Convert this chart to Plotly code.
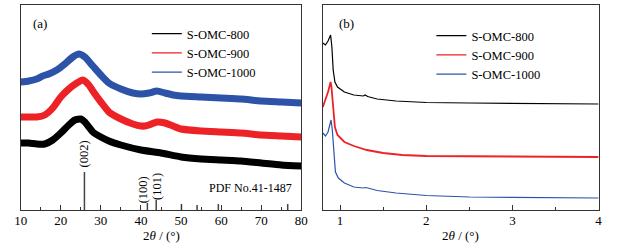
import plotly.graph_objects as go

# ---------------- data ----------------
series_names = ["S-OMC-800", "S-OMC-900", "S-OMC-1000"]
series_colors = ["#000000", "#ec2227", "#2c53a8"]

# (a) wide-angle XRD, 2theta (deg) and intensity (a.u., offset curves)
wa_x_800 = [10, 12, 14, 16, 18, 20, 22, 23.5, 25, 26, 27, 28, 30, 32, 35, 40, 45, 50, 55, 60, 65, 70, 75, 80]
wa_y_800 = [67, 67, 66, 66, 70, 77, 85, 90, 91, 88, 83, 78, 73, 69, 65, 60, 57, 53, 51, 50, 49, 47, 45, 44]

wa_x_900 = [10, 12, 14, 16, 18, 20, 22, 24, 25.5, 27, 28, 30, 32, 35, 38, 40, 41, 42, 44, 46, 48, 50, 55, 60, 65, 70, 75, 80]
wa_y_900 = [93, 93, 93, 95, 102, 113, 121, 127, 130, 125, 119, 108, 98, 91, 86, 84, 84, 85, 88, 87, 84, 81, 79, 78, 77, 75, 74, 73]

wa_x_1000 = [10, 12, 14, 15.5, 17, 19, 21, 23, 24.5, 26, 28, 30, 32, 35, 38, 40, 42, 44, 46, 48, 50, 55, 60, 65, 70, 75, 80]
wa_y_1000 = [128, 129, 131, 134, 136, 140, 146, 153, 156, 153, 144, 135, 127, 121, 117, 116, 117, 119, 117, 115, 114, 113, 112, 111, 109, 108, 107]

# reference pattern PDF No.41-1487 (stick positions and heights)
ref_pos = [25.9, 41.6, 43.8, 50.1, 54.0, 59.3, 76.6]
ref_height = [38, 7, 10, 6, 5, 6, 6]
ref_labels = ["(002)", "(100)", "(101)"]
ref_label_x = [25.9, 40.6, 44.0]
ref_label_y = [56, 20, 24]

# (b) small-angle XRD
sa_x_800 = [0.8, 0.83, 0.86, 0.89, 0.905, 0.92, 0.94, 0.97, 1.05, 1.16, 1.27, 1.29, 1.32, 1.43, 1.65, 2.0, 2.5, 3.0, 4.0]
sa_y_800 = [167, 165, 169, 175, 163, 140, 128, 123, 118, 115, 114, 115, 113.5, 111, 109, 107.5, 107, 106.5, 106]

sa_x_900 = [0.8, 0.83, 0.86, 0.89, 0.90, 0.92, 0.94, 0.97, 1.05, 1.16, 1.31, 1.5, 1.72, 2.0, 3.0, 4.0]
sa_y_900 = [103, 110, 118, 128, 123, 103, 83, 75, 68, 64, 60, 57, 55, 54, 53.5, 53]

sa_x_1000 = [0.8, 0.83, 0.86, 0.895, 0.91, 0.93, 0.946, 0.98, 1.05, 1.16, 1.27, 1.30, 1.43, 1.65, 2.0, 2.5, 3.0, 4.0]
sa_y_1000 = [77, 74, 78, 90, 80, 57, 38, 32, 27, 23, 22, 22.5, 19.5, 17, 14.5, 13, 12.5, 12]

xa_ticks = [10, 20, 30, 40, 50, 60, 70, 80]
xb_ticks = [1, 2, 3, 4]

# ---------------- figure ----------------
W, H = 632, 252
FONT = "Liberation Serif, Times New Roman, serif"
FS = 13
fig = go.Figure()

wa = [(wa_x_800, wa_y_800), (wa_x_900, wa_y_900), (wa_x_1000, wa_y_1000)]
sa = [(sa_x_800, sa_y_800), (sa_x_900, sa_y_900), (sa_x_1000, sa_y_1000)]
sa_widths = [1.2, 1.8, 1.2]

for (xs, ys), c in zip(wa, series_colors):
    fig.add_trace(go.Scatter(x=xs, y=ys, mode="lines", line=dict(color=c, width=7, shape="spline", smoothing=0.5),
                             showlegend=False, xaxis="x", yaxis="y"))
for (xs, ys), c, w in zip(sa, series_colors, sa_widths):
    fig.add_trace(go.Scatter(x=xs, y=ys, mode="lines", line=dict(color=c, width=w),
                             showlegend=False, xaxis="x2", yaxis="y2"))

# sticks
sx, sy = [], []
for p, h in zip(ref_pos, ref_height):
    sx += [p, p, None]
    sy += [0, h, None]
fig.add_trace(go.Scatter(x=sx, y=sy, mode="lines", line=dict(color="#444444", width=1.5),
                         showlegend=False, xaxis="x", yaxis="y"))

# legend entries (thin lines)
for name, c in zip(series_names, series_colors):
    fig.add_trace(go.Scatter(x=[None], y=[None], mode="lines", name=name, line=dict(color=c, width=1.2),
                             xaxis="x", yaxis="y", legend="legend"))
for name, c in zip(series_names, series_colors):
    fig.add_trace(go.Scatter(x=[None], y=[None], mode="lines", name=name, line=dict(color=c, width=1.2),
                             xaxis="x2", yaxis="y2", legend="legend2"))

ann = []
for lab, lx, ly in zip(ref_labels, ref_label_x, ref_label_y):
    ann.append(dict(x=lx, y=ly, xref="x", yref="y", text=lab, textangle=-90, showarrow=False,
                    font=dict(family=FONT, size=12.5, color="black")))
ann.append(dict(x=293 / W, y=1 - 187.7 / H, xref="paper", yref="paper", text="PDF No.41-1487",
                xanchor="right", yanchor="middle", showarrow=False, font=dict(family=FONT, size=12, color="black")))
ann.append(dict(x=25 / W, y=1 - 23 / H, xref="paper", yref="paper", text="(a)", xanchor="left",
                yanchor="middle", showarrow=False, font=dict(family=FONT, size=FS, color="black")))
ann.append(dict(x=337 / W, y=1 - 23 / H, xref="paper", yref="paper", text="(b)", xanchor="left",
                yanchor="middle", showarrow=False, font=dict(family=FONT, size=FS, color="black")))
for cx in [(14 + 301) / 2, (323 + 605) / 2]:
    ann.append(dict(x=cx / W, y=1 - 235.5 / H, xref="paper", yref="paper", text="2<i>θ</i> / (°)",
                    xanchor="center", yanchor="middle", showarrow=False,
                    font=dict(family=FONT, size=FS, color="black")))

axis_common = dict(showline=True, linecolor="#333333", linewidth=1, mirror=True, ticks="inside",
                   tickcolor="#333333", ticklen=5, showgrid=False, zeroline=False, ticklabelstandoff=-2,
                   tickfont=dict(family=FONT, size=FS, color="black"))
yaxis_common = dict(showline=True, linecolor="#333333", linewidth=1, mirror=True, showticklabels=False,
                    ticks="", showgrid=False, zeroline=False, range=[0, 205])

y_dom = [1 - 210 / H, 1 - 5 / H]
LFS = 12.5
fig.update_layout(
    width=W, height=H, autosize=False,
    margin=dict(l=0, r=0, t=0, b=0),
    paper_bgcolor="white", plot_bgcolor="white",
    xaxis=dict(domain=[14 / W, 301 / W], range=[10, 80], tickvals=xa_ticks,
               minor=dict(dtick=5, tick0=0, ticks="inside", ticklen=3, tickcolor="#333333"),
               anchor="y", **axis_common),
    yaxis=dict(domain=y_dom, anchor="x", **yaxis_common),
    xaxis2=dict(domain=[323 / W, 605 / W], range=[0.8, 4], tickvals=xb_ticks,
                minor=dict(dtick=0.5, tick0=0, ticks="inside", ticklen=3, tickcolor="#333333"),
                anchor="y2", **axis_common),
    yaxis2=dict(domain=y_dom, anchor="x2", **yaxis_common),
    legend=dict(x=143 / W, y=1 - 19 / H, xanchor="left", yanchor="top", bgcolor="rgba(0,0,0,0)",
                font=dict(family=FONT, size=LFS, color="black"), itemwidth=30, tracegroupgap=0),
    legend2=dict(x=434 / W, y=1 - 21 / H, xanchor="left", yanchor="top", bgcolor="rgba(0,0,0,0)",
                 font=dict(family=FONT, size=LFS, color="black"), itemwidth=30, tracegroupgap=0),
    annotations=ann,
)

fig.write_html("out.html", config={"displayModeBar": False},
               post_script="document.body.style.margin='0';document.body.style.overflow='hidden';")
